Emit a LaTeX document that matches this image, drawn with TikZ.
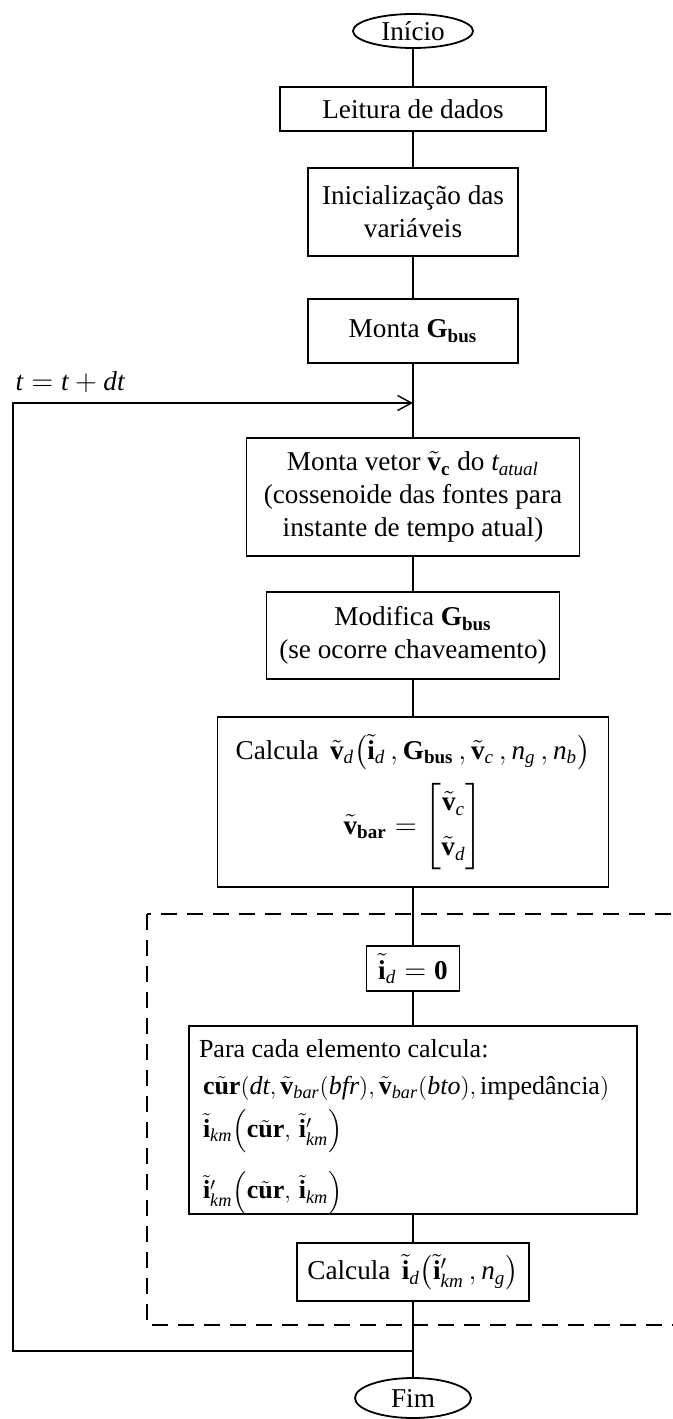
\documentclass[tikz,border=0pt]{standalone}
\usepackage{amsmath}
\usepackage{fontspec}
\setmainfont{Liberation Serif}
% letras da matematica em Times (Liberation Serif)
\DeclareSymbolFont{tletters}{TU}{\rmdefault}{m}{it}
\DeclareMathAlphabet{\mathbf}{TU}{\rmdefault}{b}{n}
\newcount\lettercode
\lettercode=`a
\loop \Umathcode\lettercode="7 \symtletters \lettercode
  \advance\lettercode by 1 \ifnum\lettercode<123 \repeat
\lettercode=`A
\loop \Umathcode\lettercode="7 \symtletters \lettercode
  \advance\lettercode by 1 \ifnum\lettercode<91 \repeat
\usepackage{tikz}
\usetikzlibrary{arrows.meta, positioning, shapes.geometric, calc}

\newcommand{\vt}[1]{\tilde{\mathbf{#1}}}
\newcommand{\cur}{\mathbf{c}\tilde{\mathbf{u}}\mathbf{r}}

\begin{document}
\begin{tikzpicture}[
  node distance=19pt,
  every node/.style={font=\fontsize{13.6}{16.5}\selectfont},
  box/.style={rectangle, draw, align=center, inner sep=2pt, outer sep=0pt, line width=0.9pt},
  term/.style={ellipse, draw, inner sep=0pt, outer sep=0pt, minimum width=60pt,
               minimum height=17pt, line width=0.9pt},
  line/.style={line width=0.7pt},
  arrow/.style={line, -{Straight Barb[length=7pt, width=7.5pt]}}]

  \useasboundingbox (0,0) rectangle (336.5pt,-709.5pt);
  \clip (0,0) rectangle (336.5pt,-709.5pt);

  \node[term] (inicio) at (206.5pt,-15.5pt) {Início};
  \node[box, minimum width=133pt, minimum height=22pt, below=19.5pt of inicio] (leitura) {Leitura de dados};
  \node[box, minimum width=105pt, minimum height=44pt, below=18.5pt of leitura] (inic) {Inicialização das\\variáveis};
  \node[box, minimum width=105pt, minimum height=32pt, below=21.5pt of inic] (monta) {Monta $\mathbf{G}_{\mathbf{bus}}$};
  \node[box, minimum width=166.5pt, minimum height=59pt, below=37.5pt of monta] (vetor)
    {Monta vetor $\vt{v}_{\mathbf{c}}$ do $t_{atual}$\\(cossenoide das fontes para\\instante de tempo atual)};
  \node[box, minimum width=146.5pt, minimum height=43.5pt, below=18pt of vetor] (modifica)
    {Modifica $\mathbf{G}_{\mathbf{bus}}$\\(se ocorre chaveamento)};
  \node[box, minimum width=195.5pt, minimum height=85pt, below=19pt of modifica] (calcvd)
    {Calcula\, $\vt{v}_d\!\left(\vt{i}_d\,, \mathbf{G}_{\mathbf{bus}}\,, \vt{v}_c\,, n_g\,, n_b\right)$\\[6pt]
     $\vt{v}_{\mathbf{bar}} = \begin{bmatrix}\vt{v}_c\\[6pt] \vt{v}_d\end{bmatrix}$};
  \node[box, minimum width=46.5pt, minimum height=22.5pt, below=29.5pt of calcvd] (zera)
    {$\vt{i}_d = \mathbf{0}$};
  \node[box, inner xsep=5pt, font=\fontsize{13}{16.5}\selectfont, below=17.5pt of zera] (para)
    {\begin{minipage}[c][90pt][t]{214pt}
     \rule{0pt}{13.5pt}Para cada elemento calcula:\\[2pt]
     \hspace*{2pt}$\cur\!\left(dt{,}\, \vt{v}_{bar}(bfr){,}\, \vt{v}_{bar}(bto){,}\, \text{impedância}\right)$\\[4pt]
     \hspace*{2pt}$\vt{i}_{km}\!\left(\cur,\, \vt{i}'_{km}\right)$\\[8pt]
     \hspace*{2pt}$\vt{i}'_{km}\!\left(\cur,\, \vt{i}_{km}\right)$
     \end{minipage}};
  \node[box, minimum width=116pt, minimum height=29pt, below=14.5pt of para] (calcid)
    {Calcula\, $\vt{i}_d\!\left(\vt{i}'_{km}\,, n_g\right)$};
  \node[term, minimum width=58pt, minimum height=20pt, below=38.5pt of calcid] (fim) {Fim};

  % laço de tempo
  \coordinate (merge) at ($(monta.south)+(0,-20pt)$);
  \coordinate (back) at ($(calcid.south)+(0,-25pt)$);
  \coordinate (loopL) at (6.5pt,0 |- back);
  \coordinate (loopT) at (6.5pt,0 |- merge);

  \draw[line] (inicio) -- (leitura);
  \draw[line] (leitura) -- (inic);
  \draw[line] (inic) -- (monta);
  \draw[line] (monta) -- (vetor);
  \draw[line] (vetor) -- (modifica);
  \draw[line] (modifica) -- (calcvd);
  \draw[line] (calcvd) -- (zera);
  \draw[line] (zera) -- (para);
  \draw[line] (para) -- (calcid);
  \draw[line] (calcid) -- (fim);
  \draw[arrow] (back) -- (loopL) -- (loopT)
    node[anchor=south west, inner sep=0pt, xshift=1pt, yshift=5pt] {$t = t + dt$} -- (merge);

  % bloco repetido por elemento
  \draw[line, dash pattern=on 8pt off 5pt] (73.5pt,-457pt) rectangle (350pt,-662.5pt);
\end{tikzpicture}
\end{document}
